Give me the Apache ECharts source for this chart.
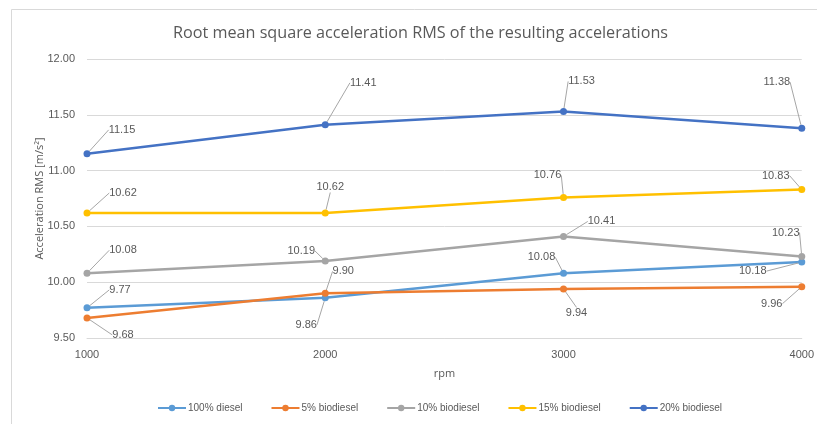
<!DOCTYPE html>
<html><head><meta charset="utf-8">
<script src="https://cdn.jsdelivr.net/npm/echarts@6/dist/echarts.min.js"></script>
<style>html,body{margin:0;padding:0;background:#fff}#c{width:817px;height:424px}</style>
</head><body><div id="c"></div>
<script>
const rpm = [1000, 2000, 3000, 4000];
const seriesNames = ['100% diesel', '5% biodiesel', '10% biodiesel', '15% biodiesel', '20% biodiesel'];
const diesel100 = [9.77, 9.86, 10.08, 10.18];
const bio5 = [9.68, 9.90, 9.94, 9.96];
const bio10 = [10.08, 10.19, 10.41, 10.23];
const bio15 = [10.62, 10.62, 10.76, 10.83];
const bio20 = [11.15, 11.41, 11.53, 11.38];
const yTicks = [9.5, 10.0, 10.5, 11.0, 11.5, 12.0];

const values = [diesel100, bio5, bio10, bio15, bio20];
const colors = ['#5B9BD5', '#ED7D31', '#A5A5A5', '#FFC000', '#4472C4'];
// label offsets (style only)
const offsets = [
  [[33,-18],[-19,27],[-22,-16],[-49,9]],
  [[36,17],[18,-22],[13,24],[-30,17]],
  [[36,-23],[-24,-10],[38,-15],[-16,-24]],
  [[36,-20],[5,-26],[-16,-22],[-26,-14]],
  [[35,-24],[38,-42],[18,-30],[-25,-46]]
];

const chart = echarts.init(document.getElementById('c'), null, {renderer: 'canvas'});
const txt = '#595959';
chart.setOption({
  animation: false,
  backgroundColor: '#fff',
  graphic: [{type: 'rect', shape: {x: 11.5, y: 9.5, width: 820, height: 430}, style: {fill: 'none', stroke: '#d9d9d9', lineWidth: 1}, silent: true}],
  title: {text: 'Root mean square acceleration RMS of the resulting accelerations', left: 168, top: 20,
    textStyle: {fontFamily: 'Open Sans', fontWeight: 'normal', fontSize: 16.2, color: txt}},
  grid: {left: 87, right: 12, top: 59, bottom: 86},
  xAxis: {type: 'value', min: rpm[0], max: rpm[rpm.length-1], interval: 1000,
    name: 'rpm', nameLocation: 'middle', nameGap: 30,
    nameTextStyle: {fontFamily: 'Open Sans', fontSize: 11, color: txt},
    axisLine: {show: true, lineStyle: {color: '#d9d9d9'}}, axisTick: {show: false}, splitLine: {show: false},
    axisLabel: {fontFamily: 'Liberation Sans', fontSize: 11, color: txt, margin: 11, formatter: v => String(v)}},
  yAxis: {type: 'value', min: yTicks[0], max: yTicks[yTicks.length-1], interval: 0.5,
    name: 'Acceleration RMS [m/s²]', nameLocation: 'middle', nameGap: 42, nameMoveOverlap: false,
    nameTextStyle: {fontFamily: 'Open Sans', fontSize: 11, color: txt},
    axisLine: {show: false}, axisTick: {show: false},
    splitLine: {lineStyle: {color: '#d9d9d9'}},
    axisLabel: {fontFamily: 'Liberation Sans', fontSize: 11, color: txt, margin: 12, formatter: v => v.toFixed(2)}},
  legend: {bottom: 6, left: 152, itemWidth: 28, itemHeight: 8, itemGap: 28,
    textStyle: {fontFamily: 'Liberation Sans', fontSize: 10, color: txt, padding: [0, 0, 0, -3]}, data: seriesNames},
  series: values.map((vals, si) => ({
    name: seriesNames[si], type: 'line',
    data: vals.map((v, i) => [rpm[i], v]),
    color: colors[si],
    lineStyle: {width: 2.5, color: colors[si]},
    symbol: 'circle', symbolSize: 7,
    itemStyle: {color: colors[si]},
    label: {show: true, position: 'inside', formatter: p => p.value[1].toFixed(2),
      fontFamily: 'Liberation Sans', fontSize: 11, color: txt},
    labelLine: {show: true, lineStyle: {color: '#a6a6a6', width: 1}},
    labelLayout: p => ({dx: offsets[si][p.dataIndex][0], dy: offsets[si][p.dataIndex][1], hideOverlap: false}),
    z: 2 + si
  }))
});
</script></body></html>
